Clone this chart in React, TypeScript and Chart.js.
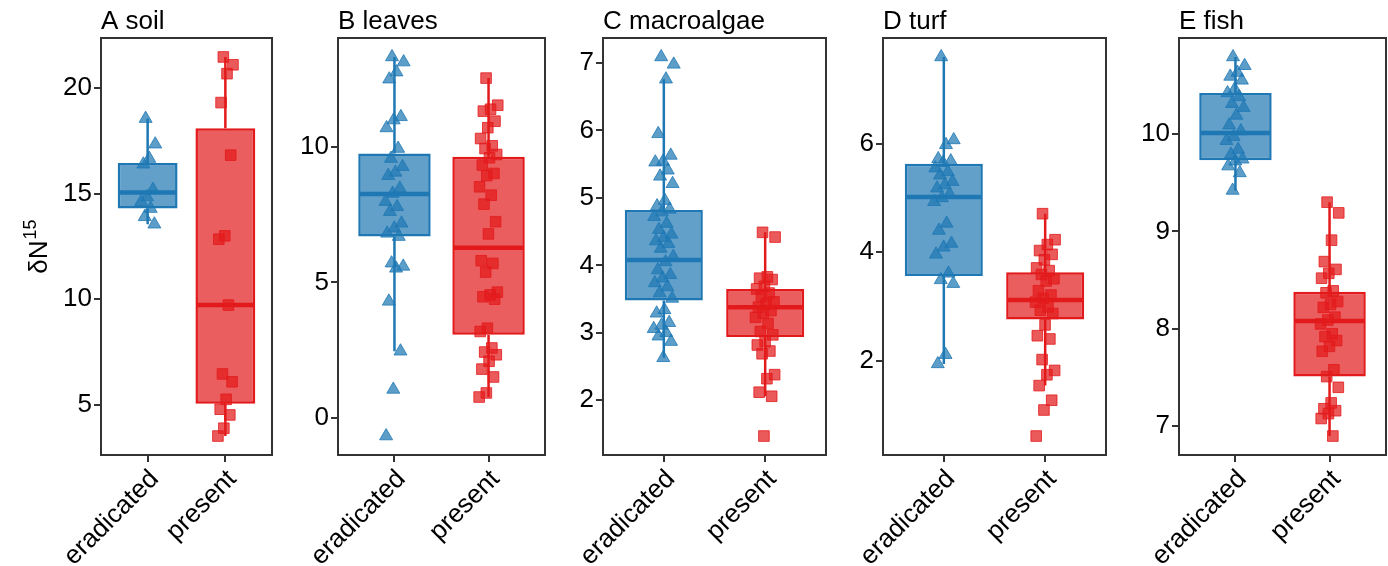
import React, { useEffect, useRef } from "react";
import { Chart, registerables } from "chart.js";

Chart.register(...registerables);

// ---------- data ----------
const GROUPS = ["eradicated", "present"];

const A_TITLE = "A soil";
const A_TICKS = [5, 10, 15, 20];
const A_ERAD = [18.55, 17.34, 16.66, 16.39, 15.19, 14.84, 14.61, 14.29, 13.9, 13.55];
const A_PRES = [21.47, 21.1, 20.68, 19.31, 16.82, 13.0, 12.84, 9.72, 6.46, 6.09, 5.26, 4.79, 4.52, 3.89, 3.52];
// [lower whisker, q1, median, q3, upper whisker]
const A_ERAD_BOX = [13.55, 14.3, 15.05, 16.45, 18.55];
const A_PRES_BOX = [3.52, 5.05, 9.72, 18.1, 21.47];

const B_TITLE = "B leaves";
const B_TICKS = [0, 5, 10];
const B_ERAD = [13.32, 13.13, 12.76, 12.5, 11.11, 10.99, 10.7, 9.94, 9.57, 9.27, 9.06, 8.94, 8.47, 8.28, 7.98, 7.79, 7.61, 7.18, 7.0, 6.81, 6.69, 5.71, 5.59, 5.52, 4.3, 2.46, 1.05, -0.67];
const B_PRES = [12.54, 11.54, 11.39, 11.32, 10.95, 10.71, 10.31, 10.04, 9.94, 9.72, 9.6, 9.33, 9.02, 8.94, 8.53, 8.22, 7.89, 7.24, 6.79, 5.8, 5.7, 5.38, 4.64, 4.54, 4.47, 4.38, 3.31, 3.19, 2.58, 2.43, 2.33, 2.09, 1.8, 1.51, 0.92, 0.77];
const B_ERAD_BOX = [2.46, 6.69, 8.26, 9.76, 13.32];
const B_PRES_BOX = [0.77, 3.07, 6.28, 9.64, 12.54];

const C_TITLE = "C macroalgae";
const C_TICKS = [2, 3, 4, 5, 6, 7];
const C_ERAD = [7.09, 6.98, 6.76, 5.95, 5.63, 5.54, 5.53, 5.41, 5.32, 5.21, 4.96, 4.88, 4.83, 4.79, 4.72, 4.62, 4.53, 4.46, 4.41, 4.36, 4.32, 4.25, 4.13, 4.05, 3.93, 3.86, 3.81, 3.74, 3.68, 3.59, 3.51, 3.34, 3.29, 3.15, 3.11, 3.06, 3.0, 2.95, 2.87, 2.63];
const C_PRES = [4.49, 4.42, 3.83, 3.81, 3.79, 3.69, 3.65, 3.59, 3.54, 3.46, 3.43, 3.38, 3.33, 3.29, 3.23, 3.14, 3.02, 2.97, 2.87, 2.82, 2.73, 2.69, 2.38, 2.32, 2.12, 2.06, 1.47];
const C_ERAD_BOX = [2.63, 3.48, 4.08, 4.82, 6.76];
const C_PRES_BOX = [2.06, 2.94, 3.38, 3.65, 4.49];

const D_TITLE = "D turf";
const D_TICKS = [2, 4, 6];
const D_ERAD = [7.6, 6.07, 5.98, 5.72, 5.68, 5.65, 5.55, 5.48, 5.42, 5.3, 5.24, 5.18, 5.07, 5.0, 4.93, 4.53, 4.4, 4.16, 4.09, 3.96, 3.61, 3.49, 3.42, 2.11, 1.94];
const D_PRES = [4.71, 4.23, 4.14, 4.03, 3.96, 3.86, 3.71, 3.66, 3.59, 3.51, 3.47, 3.29, 3.21, 3.15, 3.08, 2.99, 2.93, 2.87, 2.66, 2.46, 2.4, 2.02, 1.82, 1.74, 1.54, 1.27, 1.09, 0.61];
const D_ERAD_BOX = [1.94, 3.56, 5.02, 5.63, 7.6];
const D_PRES_BOX = [1.54, 2.76, 3.12, 3.63, 4.71];

const E_TITLE = "E fish";
const E_TICKS = [7, 8, 9, 10];
const E_ERAD = [10.79, 10.7, 10.63, 10.59, 10.55, 10.46, 10.42, 10.38, 10.31, 10.27, 10.19, 10.09, 10.03, 9.97, 9.93, 9.84, 9.79, 9.74, 9.72, 9.67, 9.6, 9.42];
const E_PRES = [9.3, 9.19, 8.91, 8.69, 8.61, 8.57, 8.52, 8.39, 8.37, 8.28, 8.25, 8.22, 8.12, 8.09, 8.05, 7.95, 7.92, 7.88, 7.82, 7.77, 7.58, 7.51, 7.4, 7.24, 7.18, 7.16, 7.13, 7.08, 6.9];
const E_ERAD_BOX = [9.42, 9.73, 10.01, 10.42, 10.79];
const E_PRES_BOX = [6.9, 7.51, 8.08, 8.38, 9.3];

// ---------- layout / style ----------
const W = 1388;
const H = 566;
const AXIS_W = 100;
const RIGHT_PAD = 2;
const PLOT_TOP = 38;
const PLOT_BOTTOM = 455;
const FONT = "'Liberation Sans', Arial, Helvetica, sans-serif";
const BLUE = "31,120,180";
const RED = "227,26,28";
const HALF_BOX = 0.375;

const PANELS = [
  { title: A_TITLE, ticks: A_TICKS, erad: A_ERAD, pres: A_PRES, eradBox: A_ERAD_BOX, presBox: A_PRES_BOX, left: 101, right: 272, yTitle: true },
  { title: B_TITLE, ticks: B_TICKS, erad: B_ERAD, pres: B_PRES, eradBox: B_ERAD_BOX, presBox: B_PRES_BOX, left: 338, right: 545, yTitle: false },
  { title: C_TITLE, ticks: C_TICKS, erad: C_ERAD, pres: C_PRES, eradBox: C_ERAD_BOX, presBox: C_PRES_BOX, left: 603, right: 826, yTitle: false },
  { title: D_TITLE, ticks: D_TICKS, erad: D_ERAD, pres: D_PRES, eradBox: D_ERAD_BOX, presBox: D_PRES_BOX, left: 883, right: 1106, yTitle: false },
  { title: E_TITLE, ticks: E_TICKS, erad: E_ERAD, pres: E_PRES, eradBox: E_ERAD_BOX, presBox: E_PRES_BOX, left: 1179, right: 1386, yTitle: false },
];

const rgba = (c: string, a: number) => `rgba(${c},${a})`;
// deterministic horizontal jitter (position only)
const jitter = (i: number) => ((((i * 0.618034 + 0.37) % 1) - 0.5) * 0.2);

const framePlugin = {
  id: "frame",
  afterDatasetsDraw(chart: any) {
    const { ctx, chartArea: a } = chart;
    ctx.save();
    ctx.strokeStyle = "#333333";
    ctx.lineWidth = 2;
    ctx.strokeRect(a.left, a.top, a.right - a.left, a.bottom - a.top);
    ctx.restore();
  },
};

const yTitlePlugin = {
  id: "yTitle",
  afterDraw(chart: any) {
    const { ctx, chartArea: a } = chart;
    const cy = (a.top + a.bottom) / 2;
    ctx.save();
    ctx.translate(46, cy);
    ctx.rotate(-Math.PI / 2);
    ctx.fillStyle = "#000";
    ctx.textBaseline = "alphabetic";
    ctx.textAlign = "left";
    ctx.font = `26px ${FONT}`;
    const main = "\u03B4N";
    const w1 = ctx.measureText(main).width;
    ctx.font = `18px ${FONT}`;
    const sup = "15";
    const w2 = ctx.measureText(sup).width;
    const x0 = -(w1 + w2 + 1) / 2;
    ctx.font = `26px ${FONT}`;
    ctx.fillText(main, x0, 0);
    ctx.font = `18px ${FONT}`;
    ctx.fillText(sup, x0 + w1 + 1, -11);
    ctx.restore();
  },
};

function buildConfig(p: any) {
  const all = [...p.erad, ...p.pres];
  const lo = Math.min(...all);
  const hi = Math.max(...all);
  const pad = (hi - lo) * 0.05;
  const groups = [
    { x: 1, vals: p.erad, box: p.eradBox, color: BLUE, shape: "triangle" },
    { x: 2, vals: p.pres, box: p.presBox, color: RED, shape: "rect" },
  ];
  const datasets: any[] = [];
  groups.forEach((g) => {
    datasets.push({
      type: "scatter",
      data: g.vals.map((v: number, i: number) => ({ x: g.x + jitter(i), y: v })),
      pointStyle: g.shape,
      pointRadius: 7.5,
      pointHoverRadius: 7.5,
      backgroundColor: rgba(g.color, 0.72),
      borderColor: rgba(g.color, 0.8),
      borderWidth: 1,
      order: 0,
    });
  });
  groups.forEach((g) => {
    datasets.push({
      type: "line",
      data: [
        { x: g.x - HALF_BOX, y: g.box[2] },
        { x: g.x + HALF_BOX, y: g.box[2] },
      ],
      borderColor: rgba(g.color, 1),
      borderWidth: 4.5,
      pointRadius: 0,
      order: 1,
    });
  });
  datasets.push({
    type: "bar",
    data: groups.map((g) => ({ x: g.x, y: [g.box[1], g.box[3]] })),
    backgroundColor: groups.map((g) => rgba(g.color, 0.7)),
    borderColor: groups.map((g) => rgba(g.color, 1)),
    borderWidth: 2.5,
    borderSkipped: false,
    barPercentage: 0.77,
    categoryPercentage: 1,
    order: 2,
  });
  groups.forEach((g) => {
    datasets.push({
      type: "line",
      data: [
        { x: g.x, y: g.box[0] },
        { x: g.x, y: g.box[1] },
        { x: g.x, y: null },
        { x: g.x, y: g.box[3] },
        { x: g.x, y: g.box[4] },
      ],
      borderColor: rgba(g.color, 1),
      borderWidth: 2.5,
      pointRadius: 0,
      spanGaps: false,
      order: 3,
    });
  });

  const tickFont = { family: FONT, size: 26 };
  const grid = {
    display: true,
    offset: false,
    drawOnChartArea: false,
    drawTicks: true,
    tickLength: 7,
    tickWidth: 2,
    tickColor: "#333333",
    color: "#333333",
    lineWidth: 2,
  };
  return {
    type: "scatter",
    data: { datasets },
    plugins: p.yTitle ? [framePlugin, yTitlePlugin] : [framePlugin],
    options: {
      animation: false,
      responsive: false,
      devicePixelRatio: 1,
      events: [],
      layout: { autoPadding: false, padding: { left: 0, right: RIGHT_PAD, top: 0, bottom: 0 } },
      plugins: {
        legend: { display: false },
        tooltip: { enabled: false },
        title: {
          display: true,
          text: p.title,
          align: "start",
          fullSize: false,
          color: "#000",
          font: { family: FONT, size: 26, weight: "normal", lineHeight: 1.2 },
          padding: { top: 6, bottom: PLOT_TOP - 6 - 31.2 },
        },
      },
      scales: {
        x: {
          type: "linear",
          min: 0.4,
          max: 2.6,
          offset: false,
          afterBuildTicks: (s: any) => {
            s.ticks = [{ value: 1 }, { value: 2 }];
          },
          afterFit: (s: any) => {
            s.height = H - PLOT_BOTTOM;
            s.paddingLeft = 0;
            s.paddingRight = 0;
          },
          ticks: {
            autoSkip: false,
            minRotation: 45,
            maxRotation: 45,
            padding: 2,
            labelOffset: 7,
            color: "#000",
            font: tickFont,
            callback: (v: number) => GROUPS[Math.round(v) - 1],
          },
          grid,
          border: { display: false },
        },
        y: {
          type: "linear",
          min: lo - pad,
          max: hi + pad,
          afterBuildTicks: (s: any) => {
            s.ticks = p.ticks.map((v: number) => ({ value: v }));
          },
          afterFit: (s: any) => {
            s.width = AXIS_W;
            s.paddingTop = 0;
            s.paddingBottom = 0;
          },
          ticks: {
            padding: 2,
            color: "#000",
            font: tickFont,
            callback: (v: number) => String(v),
          },
          grid,
          border: { display: false },
        },
      },
    },
  };
}

function Panel({ panel }: { panel: any }) {
  const ref = useRef<HTMLCanvasElement>(null);
  const cw = panel.right - panel.left + AXIS_W + RIGHT_PAD;
  useEffect(() => {
    const chart = new Chart(ref.current as HTMLCanvasElement, buildConfig(panel) as any);
    return () => chart.destroy();
  }, []);
  return (
    <canvas
      ref={ref}
      width={cw}
      height={H}
      style={{ position: "absolute", left: panel.left - AXIS_W, top: 0, width: cw, height: H }}
    />
  );
}

export default function App() {
  return (
    <div style={{ position: "absolute", left: 0, top: 0, width: W, height: H, background: "#fff", overflow: "hidden" }}>
      {PANELS.map((p, i) => (
        <Panel key={i} panel={p} />
      ))}
    </div>
  );
}
